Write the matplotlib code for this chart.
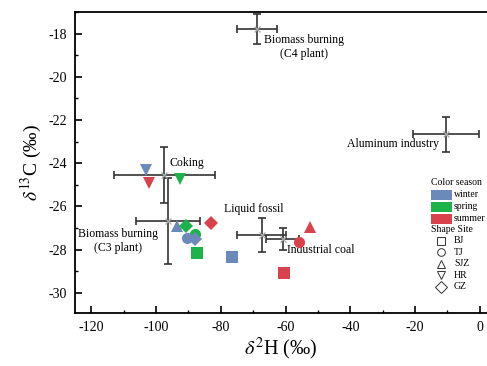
import numpy as np
import matplotlib.pyplot as plt
from matplotlib.patches import Rectangle
from matplotlib.lines import Line2D

plt.rcParams['font.family'] = 'Liberation Serif'
plt.rcParams['mathtext.fontset'] = 'stix'
plt.rcParams['axes.unicode_minus'] = False

# source end-members: name, d2H, d13C, errors
src_names = ['Biomass burning\n(C4 plant)', 'Aluminum industry', 'Coking',
             'Biomass burning\n(C3 plant)', 'Liquid fossil', 'Industrial coal']
src_h = [-68.7, -10.5, -97.4, -96.2, -67.4, -60.9]
src_c = [-17.77, -22.66, -24.55, -26.68, -27.32, -27.5]
src_herr = [6.2, 10.2, 15.5, 9.9, 7.5, 5.1]
src_cerr = [0.7, 0.8, 1.3, 2.0, 0.8, 0.5]
# label positions (data units) and alignment
lab_x = [-54.4, -26.9, -95.9, -111.6, -69.9, -59.7]
lab_y = [-18.6, -23.1, -24.0, -27.6, -26.1, -28.0]
lab_ha = ['center', 'center', 'left', 'center', 'center', 'left']

# ambient samples
samp_h = [-103.0, -102.1, -92.5, -93.4, -90.6, -88.1, -90.3, -88.1, -87.2, -82.9, -76.4, -52.6, -55.7, -60.6]
samp_c = [-24.32, -24.92, -24.74, -26.9, -26.9, -27.28, -27.46, -27.5, -28.15, -26.77, -28.34, -26.95, -27.65, -29.08]
samp_season = ['winter', 'summer', 'spring', 'winter', 'spring', 'spring', 'winter', 'winter',
               'spring', 'summer', 'winter', 'summer', 'summer', 'summer']
samp_site = ['HR', 'HR', 'HR', 'SJZ', 'GZ', 'TJ', 'TJ', 'GZ', 'BJ', 'GZ', 'BJ', 'SJZ', 'TJ', 'BJ']

seasons = ['winter', 'spring', 'summer']
season_col = {'winter': '#6b89b9', 'spring': '#1db34a', 'summer': '#d9414d'}
sites = ['BJ', 'TJ', 'SJZ', 'HR', 'GZ']
site_mk = {'BJ': 's', 'TJ': 'o', 'SJZ': '^', 'HR': 'v', 'GZ': 'D'}

fig = plt.figure(figsize=(4.87, 3.66), dpi=100)
ax = fig.add_axes([0.154, 0.145, 0.846, 0.822])

for h, c, he, ce in zip(src_h, src_c, src_herr, src_cerr):
    ax.errorbar(h, c, xerr=he, yerr=ce, fmt='none', ecolor='#333333', elinewidth=1.2,
                capsize=3, capthick=1.2, zorder=2)
ax.plot(src_h, src_c, 'x', color='#aaaaaa', markersize=5, mew=0.9, zorder=3)

for name, x, y, ha in zip(src_names, lab_x, lab_y, lab_ha):
    ax.text(x, y, name, ha=ha, va='center', fontsize=8.5, multialignment='center', zorder=4)

for h, c, s, st in zip(samp_h, samp_c, samp_season, samp_site):
    ms = 7 if site_mk[st] == 'D' else 8
    ax.plot(h, c, site_mk[st], color=season_col[s], markersize=ms, mew=0, zorder=5)

ax.set_xlim(-125, 2.2)
ax.set_ylim(-30.93, -17.0)
ax.set_xticks(np.arange(-120, 1, 20))
ax.set_xticks(np.arange(-110, 1, 20), minor=True)
ax.set_yticks(np.arange(-30, -17, 2))
ax.set_yticks(np.arange(-29, -16, 2), minor=True)
ax.tick_params(which='both', direction='in', labelsize=10, pad=6)
ax.tick_params(which='major', length=5, width=1.2)
ax.tick_params(which='minor', length=2.5, width=1)
ax.spines['right'].set_visible(False)
for sp in ['left', 'bottom', 'top']:
    ax.spines[sp].set_linewidth(1.3)

ax.set_xlabel(r'$\delta^{2}$H (‰)', fontsize=14.5, labelpad=1)
ax.set_ylabel(r'$\delta^{13}$C (‰)', fontsize=14, labelpad=3)

# custom legend in axes fraction
tr = ax.transAxes
def fx(px):
    return (px - 75) / (487 - 75)
def fy(py):
    return (313 - py) / (313 - 12)

ax.text(fx(431), fy(183), 'Color season', transform=tr, fontsize=7, va='center', ha='left')
for i, s in enumerate(seasons):
    yy = fy(195 + 12 * i)
    ax.add_patch(Rectangle((fx(431), yy - 0.018), fx(452) - fx(431), 0.036,
                           transform=tr, facecolor=season_col[s], edgecolor='none', clip_on=False))
    ax.text(fx(454), yy, s, transform=tr, fontsize=7, va='center', ha='left')
ax.text(fx(431), fy(230), 'Shape Site', transform=tr, fontsize=7, va='center', ha='left')
for i, st in enumerate(sites):
    yy = fy(241 + 11.5 * i)
    ax.add_line(Line2D([fx(441)], [yy], marker=site_mk[st], markersize=5.5 if st != 'GZ' else 6,
                       mfc='none', mec='#333333', mew=0.7, transform=tr, clip_on=False))
    ax.text(fx(454), yy, st, transform=tr, fontsize=7, va='center', ha='left')

fig.savefig('out.png', dpi=100)
